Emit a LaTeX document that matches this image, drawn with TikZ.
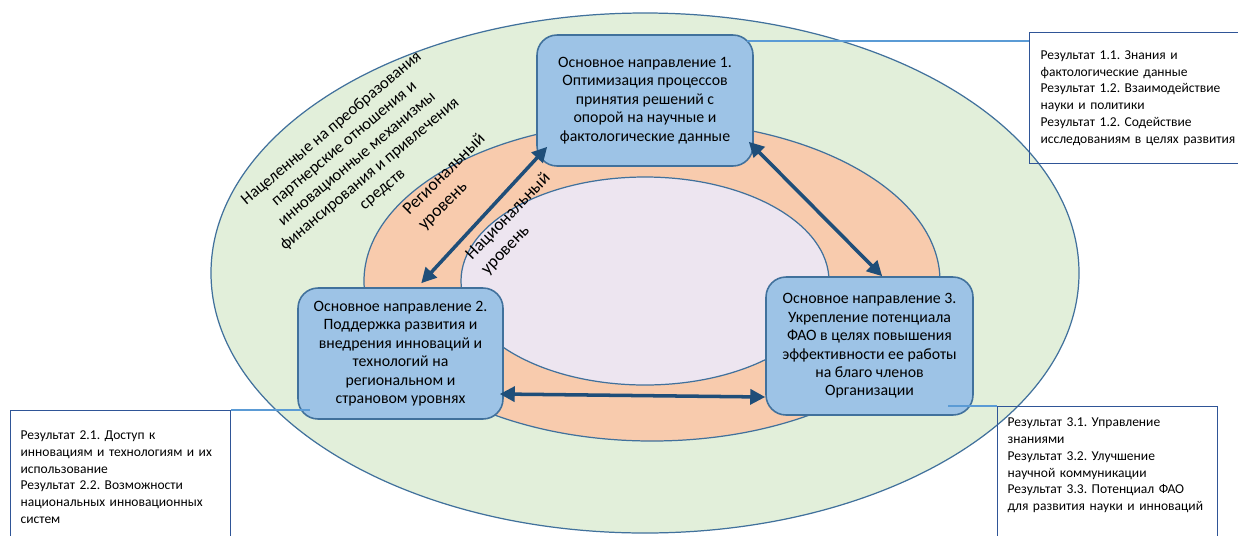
\documentclass[tikz,border=0pt]{standalone}
\usepackage{fontspec}
\setmainfont{Carlito}
\usetikzlibrary{positioning,calc,arrows.meta}

\definecolor{ringgreen}{RGB}{226,239,218}
\definecolor{ringorange}{RGB}{248,203,173}
\definecolor{ringlilac}{RGB}{237,229,240}
\definecolor{ringline}{RGB}{65,113,156}
\definecolor{boxblue}{RGB}{157,195,230}
\definecolor{arrowblue}{RGB}{31,78,121}
\definecolor{linkblue}{RGB}{91,155,213}
\definecolor{resline}{RGB}{47,85,151}

\tikzset{
  ring/.style={draw=ringline, line width=0.7pt},
  dirbox/.style={draw=ringline, line width=0.9pt, fill=boxblue, rounded corners=0.4cm,
    align=center, inner sep=0pt, font=\fontsize{9}{10.5}\selectfont},
  resbox/.style={draw=resline, line width=0.7pt, anchor=north west, align=left,
    font=\fontsize{7.7}{9.6}\selectfont},
  twoway/.style={{Triangle[length=0.3cm,width=0.3cm]}-{Triangle[length=0.3cm,width=0.3cm]},
    draw=arrowblue, line width=2pt},
  link/.style={draw=linkblue, line width=0.6pt},
  ringtext/.style={align=center, font=\fontsize{9.4}{11.3}\selectfont},
  lvltext/.style={align=left, font=\fontsize{10}{12.2}\selectfont}
}

\begin{document}
\frenchspacing
\begin{tikzpicture}[x=0.02cm, y=-0.02cm]
    \useasboundingbox (0,0) rectangle (1238,535);

    % Rings
    \draw[ring, fill=ringgreen] (645,273) ellipse [x radius=434, y radius=260];
    \draw[ring, fill=ringorange] (652,281) ellipse [x radius=288, y radius=160];
    \draw[ring, fill=ringlilac] (645,281) ellipse [x radius=184, y radius=104];

    % Ring labels
    \node[ringtext, rotate=40] (outertxt) at (357,159)
        {Нацеленные на преобразования\\партнерские отношения и\\инновационные механизмы\\финансирования и привлечения\\средств};
    \node[lvltext, rotate=45] (regtxt) at (452,182) {Региональный\\уровень};
    \node[lvltext, rotate=46] (nattxt) at (516,224) {Национальный\\уровень};

    % Main directions
    \node[dirbox, minimum width=4.32cm, minimum height=2.62cm] (dir1) at (645,100.5)
        {Основное направление 1.\\Оптимизация процессов\\принятия решений с\\опорой на научные и\\фактологические данные};
    \node[dirbox, minimum width=4.1cm, minimum height=2.62cm] (dir2) at (400.5,353.5)
        {Основное направление 2.\\Поддержка развития и\\внедрения инноваций и\\технологий на\\региональном и\\страновом уровнях};
    \node[dirbox, minimum width=4.14cm, minimum height=2.76cm] (dir3) at (869.5,346)
        {Основное направление 3.\\Укрепление потенциала\\ФАО в целях повышения\\эффективности ее работы\\на благо членов\\Организации};

    % Results
    \node[resbox, text width=4.3cm, inner xsep=0.22cm, minimum height=2.62cm] (res1) at (1029,32)
        {Результат 1.1. Знания и\\фактологические данные\\Результат 1.2. Взаимодействие\\науки и политики\\Результат 1.2. Содействие\\исследованиям в целях развития};
    \node[resbox, text width=4cm, inner xsep=0.2cm, inner ysep=0.4cm, text depth=2.2cm] (res2) at (10,410)
        {Результат 2.1. Доступ к\\инновациям и технологиям и их\\использование\\Результат 2.2. Возможности\\национальных инновационных\\систем};
    \node[resbox, text width=4cm, inner xsep=0.2cm, inner ysep=0.22cm, text depth=2.1cm] (res3) at (997,406)
        {Результат 3.1. Управление\\знаниями\\Результат 3.2. Улучшение\\научной коммуникации\\Результат 3.3. Потенциал ФАО\\для развития науки и инноваций};

    % Arrows between directions
    \draw[twoway] ($(dir1.south west)+(11,-20)$) -- ($(dir2.north west)+(124,-4)$);
    \draw[twoway] ($(dir1.south east)+(-5,-25)$) -- ($(dir3.north west)+(117,0)$);
    \draw[twoway] ($(dir2.east)+(-4,40.5)$) -- ($(dir3.west)+(0,51)$);

    % Links to results
    \coordinate (l1) at (747,41);
    \coordinate (l2) at (310,410);
    \coordinate (l3) at (948,406);
    \draw[link] (l1) -- (l1 -| res1.west);
    \draw[link] (l2) -- (res2.north east);
    \draw[link] (l3) -- (res3.north west);
\end{tikzpicture}
\end{document}
